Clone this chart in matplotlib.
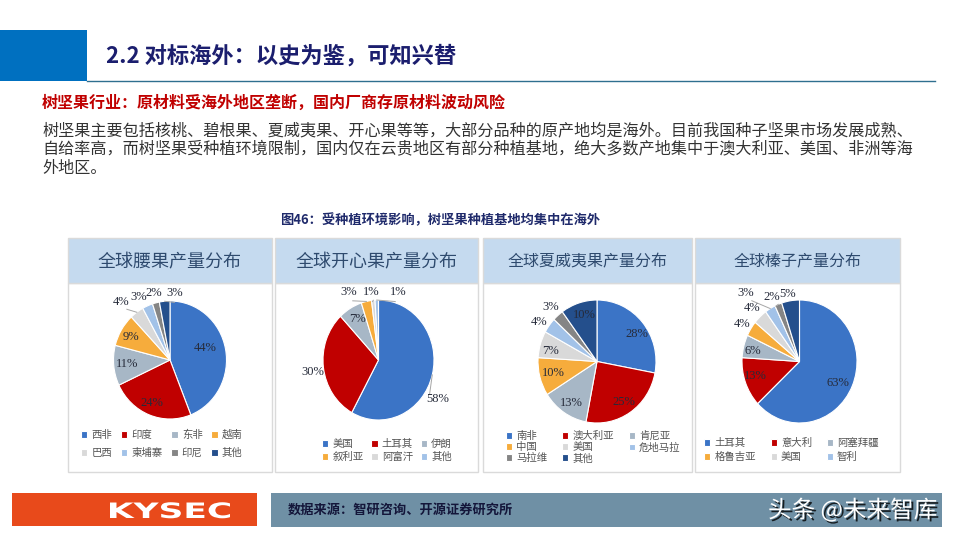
import numpy as np
import matplotlib
matplotlib.use('Agg')
import matplotlib.pyplot as plt
import matplotlib.patches as mpatches
import matplotlib.patheffects as pe
from matplotlib.textpath import TextPath
from matplotlib.font_manager import FontProperties
from matplotlib.transforms import Affine2D

plt.rcParams['font.family'] = ['Noto Sans CJK SC', 'DejaVu Sans']

# chart data
cashew_regions = ['西非', '印度', '东非', '越南', '巴西', '柬埔寨', '印尼', '其他']
cashew_share = [44, 24, 11, 9, 4, 3, 2, 3]

pistachio_regions = ['美国', '土耳其', '伊朗', '叙利亚', '阿富汗', '其他']
pistachio_share = [58, 30, 7, 3, 1, 1]

macadamia_regions = ['南非', '澳大利亚', '肯尼亚', '中国', '美国', '危地马拉', '马拉维', '其他']
macadamia_share = [28, 25, 13, 10, 7, 4, 3, 10]

# legend of the hazelnut chart only names the first six slices
hazelnut_regions = ['土耳其', '意大利', '阿塞拜疆', '格鲁吉亚', '美国', '智利']
hazelnut_share = [63, 13, 6, 4, 4, 3, 2, 5]

panel_titles = ['全球腰果产量分布', '全球开心果产量分布', '全球夏威夷果产量分布', '全球榛子产量分布']

# colours
BLUE, RED, GBLUE, ORANGE = '#3B74C6', '#C00000', '#A7B7C6', '#F6AC3C'
LGRAY, LBLUE, GRAY, NAVY = '#D9D9D9', '#A2C2E8', '#858585', '#244F8C'
pal8 = [BLUE, RED, GBLUE, ORANGE, LGRAY, LBLUE, GRAY, NAVY]
pal6 = [BLUE, RED, GBLUE, ORANGE, LGRAY, LBLUE]

W, H = 960, 540
fig = plt.figure(figsize=(9.6, 5.4), dpi=100)
bg = fig.add_axes([0, 0, 1, 1])
bg.set_xlim(0, W)
bg.set_ylim(H, 0)
bg.axis('off')

# header
bg.add_patch(mpatches.Rectangle((0, 30), 87, 51, color='#0070C0', lw=0))
bg.plot([87, 935], [81, 81], color='#2F6F8F', lw=1)
bg.text(106, 56, '2.2 对标海外：以史为鉴，可知兴替', fontsize=16, fontweight='bold',
        color='#1B1E6E', va='center')

bg.text(42, 103, '树坚果行业：原材料受海外地区垄断，国内厂商存原材料波动风险',
        fontsize=11.5, fontweight='bold', color='#C00000', va='center')
body = ['树坚果主要包括核桃、碧根果、夏威夷果、开心果等等，大部分品种的原产地均是海外。目前我国种子坚果市场发展成熟、',
        '自给率高，而树坚果受种植环境限制，国内仅在云贵地区有部分种植基地，绝大多数产地集中于澳大利亚、美国、非洲等海',
        '外地区。']
for i, line in enumerate(body):
    bg.text(42, 131 + i * 18.5, line, fontsize=11.6, color='#333333', va='center')

bg.text(440, 220, '图46：受种植环境影响，树坚果种植基地均集中在海外', fontsize=9.5,
        fontweight='bold', color='#1F2A6B', va='center', ha='center')

# panels
panels = [(68, 272), (275, 478), (483, 692), (695, 900)]
title_sizes = [13, 13, 11.5, 11.5]
for (x0, x1), t, fs in zip(panels, panel_titles, title_sizes):
    bg.add_patch(mpatches.Rectangle((x0, 283), x1 - x0, 189, facecolor='white',
                                    edgecolor='#DADADA', lw=1))
    bg.add_patch(mpatches.Rectangle((x0, 238), x1 - x0, 45, facecolor='#C5DAEF',
                                    edgecolor='#DADADA', lw=1))
    bg.text((x0 + x1) / 2, 262, t, fontsize=fs, color='#2E4A6E', ha='center', va='center')

# footer
bg.add_patch(mpatches.Rectangle((12, 493), 245, 33, color='#E84A1B', lw=0))
bg.add_patch(mpatches.Rectangle((271, 493), 671, 34, color='#6F90A5', lw=0))
tp = TextPath((0, 0), 'KYSEC', size=1, prop=FontProperties(family='DejaVu Sans', weight='bold'))
ext = tp.get_extents()
sx = 120 / ext.width
sy = 15.5 / 0.73
tr = Affine2D().scale(sx, -sy).translate(110 - ext.x0 * sx, 518) + bg.transData
bg.add_patch(mpatches.PathPatch(tp, transform=tr, color='white', lw=0))
bg.text(288, 510, '数据来源：智研咨询、开源证券研究所', fontsize=9.5, fontweight='bold',
        color='#14163A', va='center')
bg.text(768, 510, '头条 @未来智库', fontsize=17, color='white', va='center',
        path_effects=[pe.SimplePatchShadow(offset=(1.5, -1.5), shadow_rgbFace='black', alpha=0.8),
                      pe.Normal()])

# label placement per pie: (angle shift in degrees, radial distance, leader line)
lab1 = [(-7, .65, 0), (2, .8, 0), (0, .76, 0), (-1, .79, 0),
        (-5.6, 1.31, 1), (-4, 1.2, 0), (0, 1.17, 0), (10, 1.14, 1)]
lab2 = [(17, 1.24, 1), (-2, 1.2, 0), (2, .78, 0), (-12.6, 1.25, 1), (-1, 1.14, 1), (19, 1.18, 1)]
lab3 = [(6, .81, 0), (0, .8, 0), (-2, .8, 0), (0, .77, 0), (-4, .8, 0),
        (-3, 1.17, 0), (0, 1.19, 0), (2, .79, 0)]
lab4 = [(4, .76, 0), (2.5, .81, 0), (-2, .83, 0), (-1, 1.17, 0), (0, 1.2, 0),
        (-9.4, 1.45, 1), (-3, 1.15, 1), (-1.3, 1.12, 0)]


def row_to_col(items, ncol):
    idx = sorted(range(len(items)), key=lambda i: (i % ncol, i // ncol))
    return [items[i] for i in idx]


def draw_pie(cx, cy, rx, ry, shares, names, colors, labcfg, ncol, leg_xy, colspace, labspace):
    ax = fig.add_axes([(cx - rx) / W, 1 - (cy + ry) / H, 2 * rx / W, 2 * ry / H])
    wedges, _ = ax.pie(shares, colors=colors, startangle=90, counterclock=False,
                       wedgeprops=dict(edgecolor='white', linewidth=0.8))
    ax.set_aspect('auto')
    ax.set_xlim(-1, 1)
    ax.set_ylim(-1, 1)
    ax.axis('off')
    total = float(sum(shares))
    cum = np.cumsum([0] + list(shares))
    for i, v in enumerate(shares):
        mid = (cum[i] + v / 2) / total * 360
        shift, d, leader = labcfg[i]
        th = np.radians(mid + shift)
        lx, ly = np.sin(th) * d, np.cos(th) * d
        ax.text(lx, ly, f'{v}%', fontsize=9, family='Liberation Serif', color='#262b3a',
                ha='center', va='center', clip_on=False)
        if leader:
            m = np.radians(mid)
            ax.plot([np.sin(m) * 1.0, np.sin(th) * (d - 0.16)],
                    [np.cos(m) * 1.0, np.cos(th) * (d - 0.16)],
                    color='#A6A6A6', lw=0.7, clip_on=False)
    handles = row_to_col(list(wedges[:len(names)]), ncol)
    labels = row_to_col(list(names), ncol)
    ax.legend(handles, labels, ncol=ncol, loc='upper left',
              bbox_to_anchor=(leg_xy[0] / W, 1 - leg_xy[1] / H), bbox_transform=fig.transFigure,
              frameon=False, fontsize=7.5, handlelength=0.6, handleheight=0.6,
              handletextpad=0.4, columnspacing=colspace, labelspacing=labspace,
              borderpad=0, borderaxespad=0, labelcolor='#555555')


draw_pie(170, 360, 56.5, 59, cashew_share, cashew_regions, pal8, lab1, 4, (81, 430), 0.85, 0.75)
draw_pie(378.5, 360, 55.5, 60, pistachio_share, pistachio_regions, pal6, lab2, 3, (322, 439), 0.75, 0.3)
draw_pie(597, 361.5, 59, 61.5, macadamia_share, macadamia_regions, pal8, lab3, 3, (506, 431), 1.4, 0.1)
draw_pie(799.5, 361.5, 57.5, 61.5, hazelnut_share, hazelnut_regions, pal8, lab4, 3, (704, 438), 1.4, 0.4)

fig.savefig('out.png', dpi=100)
